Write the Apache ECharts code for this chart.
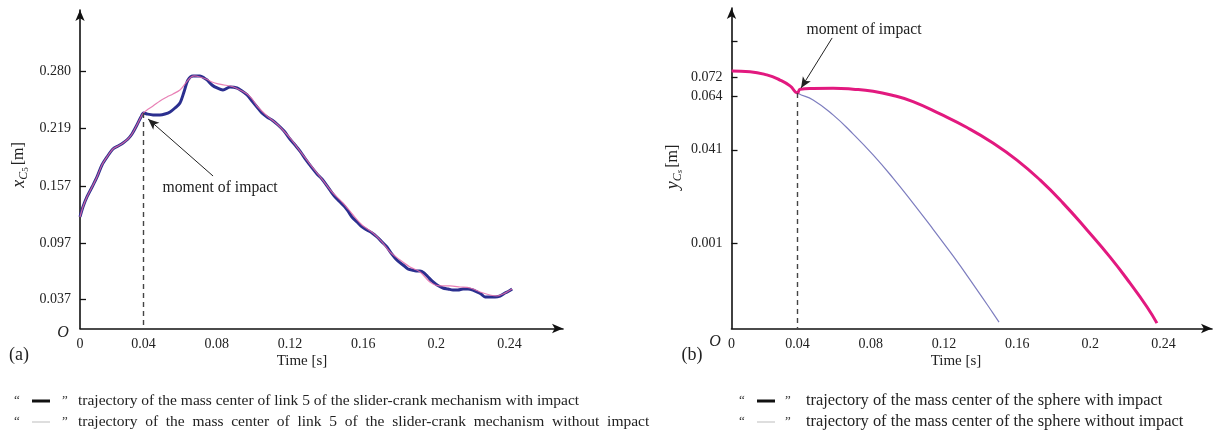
<!DOCTYPE html>
<html>
<head>
<meta charset="utf-8">
<title>trajectory of mass centers</title>
<script src="https://cdn.jsdelivr.net/npm/echarts@6/dist/echarts.min.js"></script>
<style>
	html,body{margin:0;padding:0;background:#fff;}
	#main{width:1217px;height:436px;}
</style>
</head>
<body>
<div id="main"></div>
<script type="text/javascript">
	// (a) link 5 of the slider-crank mechanism, x of the mass center [m]
	// shared part before the impact (t <= 0.04)
	var tBeforeA = [0.0053,0.0069,0.0091,0.0119,0.0146,0.0173,0.0201,0.0233,0.0261,0.0288,0.0315,0.0337,0.0364,0.0386,0.04];
	var xBeforeA = [0.1246,0.1352,0.1459,0.1565,0.1672,0.1799,0.1885,0.1970,0.2002,0.2034,0.2076,0.2129,0.2225,0.2310,0.2353];
	// with impact
	var tWithA = [0.0419,0.0452,0.0490,0.0517,0.0545,0.0572,0.0599,0.0621,0.0643,0.0670,0.0709,0.0731,0.0747,0.0774,0.0802,0.0834,0.0873,0.0911,0.0938,0.0966,0.0993,0.1020,0.1047,0.1075,0.1102,0.1135,0.1168,0.1200,0.1228,0.1255,0.1288,0.1321,0.1348,0.1375,0.1403,0.1430,0.1452,0.1474,0.1496,0.1517,0.1539,0.1567,0.1594,0.1621,0.1649,0.1676,0.1703,0.1730,0.1752,0.1774,0.1796,0.1818,0.1845,0.1867,0.1889,0.1911,0.1933,0.1955,0.1976,0.2004,0.2036,0.2064,0.2091,0.2118,0.2146,0.2173,0.2200,0.2222,0.2244,0.2266,0.2293,0.2321,0.2348,0.2375,0.2397,0.2414];
	var xWithA = [0.2342,0.2332,0.2332,0.2342,0.2364,0.2406,0.2459,0.2576,0.2704,0.2747,0.2747,0.2725,0.2704,0.2651,0.2619,0.2598,0.2630,0.2619,0.2587,0.2545,0.2481,0.2417,0.2353,0.2310,0.2278,0.2225,0.2161,0.2076,0.2012,0.1948,0.1853,0.1768,0.1704,0.1650,0.1576,0.1501,0.1448,0.1406,0.1363,0.1310,0.1246,0.1193,0.1140,0.1108,0.1076,0.1033,0.0980,0.0927,0.0863,0.0810,0.0767,0.0735,0.0692,0.0682,0.0671,0.0671,0.0650,0.0607,0.0565,0.0522,0.0490,0.0480,0.0469,0.0469,0.0480,0.0480,0.0469,0.0448,0.0426,0.0394,0.0394,0.0394,0.0405,0.0437,0.0458,0.0480];
	// without impact
	var tWithoutA = [0.0419,0.0452,0.0490,0.0528,0.0561,0.0599,0.0627,0.0654,0.0676,0.0709,0.0742,0.0774,0.0807,0.0840,0.0873,0.0905,0.0938,0.0966,0.0993,0.1020,0.1075,0.1135,0.1200,0.1255,0.1321,0.1375,0.1430,0.1490,0.1545,0.1594,0.1654,0.1703,0.1747,0.1802,0.1856,0.1911,0.1965,0.2020,0.2075,0.2129,0.2184,0.2239,0.2293,0.2332,0.2364,0.2386,0.2414];
	var xWithoutA = [0.2385,0.2427,0.2481,0.2523,0.2555,0.2598,0.2662,0.2725,0.2747,0.2736,0.2715,0.2683,0.2662,0.2651,0.2640,0.2619,0.2587,0.2555,0.2502,0.2427,0.2321,0.2225,0.2087,0.1948,0.1778,0.1650,0.1512,0.1395,0.1267,0.1161,0.1076,0.0980,0.0873,0.0788,0.0714,0.0661,0.0554,0.0512,0.0512,0.0501,0.0490,0.0448,0.0416,0.0405,0.0426,0.0448,0.0480];

	// (b) the sphere, y of the mass center [m]
	var tBeforeB = [0.0040,0.0140,0.0232,0.0304,0.0359,0.04];
	var yBeforeB = [0.0747,0.0744,0.0730,0.0708,0.0683,0.0653];
	var tWithB = [0.0414,0.0485,0.0594,0.0703,0.0813,0.0922,0.1031,0.1179,0.1326,0.1468,0.1599,0.1725,0.1851,0.1982,0.2108,0.2217,0.2310,0.2364];
	var yWithB = [0.0669,0.0672,0.0673,0.0669,0.0660,0.0642,0.0616,0.0563,0.0505,0.0439,0.0366,0.0281,0.0182,0.0067,-0.0049,-0.0160,-0.0262,-0.0331];
	var tWithoutB = [0.0485,0.0594,0.0703,0.0813,0.0922,0.1031,0.1140,0.1250,0.1359,0.1468,0.1501];
	var yWithoutB = [0.0623,0.0559,0.0478,0.0388,0.0289,0.0182,0.0071,-0.0044,-0.0164,-0.0288,-0.0327];

	// tick labels
	var timeTicks = [0.04,0.08,0.12,0.16,0.2,0.24];
	var yTicksA = [0.037,0.097,0.157,0.219,0.280];
	var yTicksB = [0.001,0.041,0.064,0.072];
	var yExtraTickB = [0.0872];

	var impactT = 0.04;
	var serif = "'Liberation Serif','DejaVu Serif',serif";

	// axis ranges
	var rangeA = {xMin:0.0053, xMax:0.2692, yMin:0.0059, yMax:0.3449};
	var rangeB = {xMin:0.0039, xMax:0.2665, yMin:-0.0354, yMax:0.1016};

	function zip(t, v){
		var out = [];
		for(var i=0;i<t.length;i++){
			out.push([t[i], v[i]]);
		}
		return out;
	}

	function timeAxis(idx, r){
		return {
			type:'value', gridIndex:idx, min:r.xMin, max:r.xMax,
			axisLine:{show:true, onZero:false, symbol:['none','arrow'], symbolSize:[7,11], lineStyle:{color:'#111', width:1.6}},
			axisTick:{show:false},
			splitLine:{show:false},
			axisLabel:{
				customValues:[r.xMin].concat(timeTicks),
				showMinLabel:true,
				margin:9,
				color:'#222', fontFamily:serif, fontSize:14,
				formatter:function(v){ return v < 0.01 ? '0' : String(parseFloat(v.toFixed(2))); }
			}
		};
	}

	function valueAxis(idx, r, labels, ticks){
		return {
			type:'value', gridIndex:idx, min:r.yMin, max:r.yMax,
			axisLine:{show:true, onZero:false, symbol:['none','arrow'], symbolSize:[7,11], lineStyle:{color:'#111', width:1.6}},
			axisTick:{show:true, inside:true, length:6, customValues:ticks, lineStyle:{color:'#111', width:1.3}},
			splitLine:{show:false},
			axisLabel:{
				customValues:labels,
				margin:9,
				color:'#222', fontFamily:serif, fontSize:14,
				formatter:function(v){ return v.toFixed(3); }
			}
		};
	}

	var chart = echarts.init(document.getElementById('main'));

	var option = {
		animation:false,
		backgroundColor:'#fff',
		grid:[
			{left:80, right:654, top:10, bottom:107.5},
			{left:731.5, right:5, top:8, bottom:107.5}
		],
		xAxis:[timeAxis(0, rangeA), timeAxis(1, rangeB)],
		yAxis:[
			valueAxis(0, rangeA, yTicksA, yTicksA),
			valueAxis(1, rangeB, yTicksB, yTicksB.concat(yExtraTickB))
		],
		series:[
			{
				name:'with impact (a)', type:'line', xAxisIndex:0, yAxisIndex:0,
				data:zip(tBeforeA.concat(tWithA), xBeforeA.concat(xWithA)),
				showSymbol:false, smooth:0.3, z:3,
				lineStyle:{color:'#2b2f8f', width:3},
				markLine:{
					silent:true, symbol:['none','none'], label:{show:false},
					data:[
						[{coord:[impactT, xBeforeA[xBeforeA.length-1]], lineStyle:{color:'#444', width:1.4, type:[5,4]}},
						 {coord:[impactT, rangeA.yMin]}],
						[{coord:[0.0780, 0.1682], symbol:'none', lineStyle:{color:'#222', width:1, type:'solid'}},
						 {coord:[0.0425, 0.2289], symbol:'arrow', symbolSize:[7,11]}]
					]
				}
			},
			{
				name:'without impact (a)', type:'line', xAxisIndex:0, yAxisIndex:0,
				data:zip(tBeforeA.concat(tWithoutA), xBeforeA.concat(xWithoutA)),
				showSymbol:false, smooth:0.3, z:4,
				lineStyle:{color:'#e46aa8', width:1.2, opacity:0.85}
			},
			{
				name:'without impact (b)', type:'line', xAxisIndex:1, yAxisIndex:1,
				data:zip(tBeforeB.concat(tWithoutB), yBeforeB.concat(yWithoutB)),
				showSymbol:false, smooth:true, z:3,
				lineStyle:{color:'#7d7dbf', width:1.2}
			},
			{
				name:'with impact (b)', type:'line', xAxisIndex:1, yAxisIndex:1,
				data:zip(tBeforeB.concat(tWithB), yBeforeB.concat(yWithB)),
				showSymbol:false, smooth:true, z:4,
				lineStyle:{color:'#e2197f', width:3},
				markLine:{
					silent:true, symbol:['none','none'], label:{show:false},
					data:[
						[{coord:[impactT, yBeforeB[yBeforeB.length-1]], lineStyle:{color:'#444', width:1.4, type:[5,4]}},
						 {coord:[impactT, rangeB.yMin]}],
						[{coord:[0.0589, 0.0888], symbol:'none', lineStyle:{color:'#222', width:1, type:'solid'}},
						 {coord:[0.0419, 0.0674], symbol:'arrow', symbolSize:[7,11]}]
					]
				}
			}
		],
		graphic:[
			// origin marks
			{type:'text', x:63, y:333, style:{text:'O', font:'italic 16px '+serif, fill:'#222', align:'center', verticalAlign:'middle'}},
			{type:'text', x:715, y:342, style:{text:'O', font:'italic 16px '+serif, fill:'#222', align:'center', verticalAlign:'middle'}},
			// panel tags
			{type:'text', x:19, y:355, style:{text:'(a)', font:'18px '+serif, fill:'#222', align:'center', verticalAlign:'middle'}},
			{type:'text', x:692, y:355, style:{text:'(b)', font:'18px '+serif, fill:'#222', align:'center', verticalAlign:'middle'}},
			// axis names
			{type:'text', x:302, y:361, style:{text:'Time [s]', font:'15px '+serif, fill:'#222', align:'center', verticalAlign:'middle'}},
			{type:'text', x:956, y:361, style:{text:'Time [s]', font:'15px '+serif, fill:'#222', align:'center', verticalAlign:'middle'}},
			{type:'text', x:19, y:165, rotation:Math.PI/2, style:{
				text:'{v|x}{s|C}{ss|5}{n|[m]}', fill:'#222', align:'center', verticalAlign:'middle',
				rich:{
					v:{font:'italic 18px '+serif, lineHeight:22, verticalAlign:'middle'},
					s:{font:'italic 12px '+serif, lineHeight:13, verticalAlign:'bottom'},
					ss:{font:'9px '+serif, lineHeight:9, verticalAlign:'bottom'},
					n:{font:'16px '+serif, lineHeight:22, verticalAlign:'middle', padding:[0,0,0,2]}
				}
			}},
			{type:'text', x:673, y:167, rotation:Math.PI/2, style:{
				text:'{v|y}{s|C}{ss|s}{n|[m]}', fill:'#222', align:'center', verticalAlign:'middle',
				rich:{
					v:{font:'italic 18px '+serif, lineHeight:22, verticalAlign:'middle'},
					s:{font:'italic 12px '+serif, lineHeight:13, verticalAlign:'bottom'},
					ss:{font:'italic 9px '+serif, lineHeight:9, verticalAlign:'bottom'},
					n:{font:'16px '+serif, lineHeight:22, verticalAlign:'middle', padding:[0,0,0,2]}
				}
			}},
			// annotations
			{type:'text', x:220, y:188, style:{text:'moment of impact', font:'15.7px '+serif, fill:'#222', align:'center', verticalAlign:'middle'}},
			{type:'text', x:864, y:30, style:{text:'moment of impact', font:'15.7px '+serif, fill:'#222', align:'center', verticalAlign:'middle'}},
			// legend (a)
			{type:'text', x:14, y:401, style:{text:'\u201c', font:'13px '+serif, fill:'#333', verticalAlign:'middle'}},
			{type:'line', shape:{x1:32, y1:401, x2:50, y2:401}, style:{stroke:'#111', lineWidth:3}},
			{type:'text', x:62, y:401, style:{text:'\u201d', font:'13px '+serif, fill:'#333', verticalAlign:'middle'}},
			{type:'text', x:78, y:401, style:{text:'trajectory of the mass center of link 5 of the slider-crank mechanism with impact', font:'15.5px '+serif, fill:'#222', verticalAlign:'middle'}},
			{type:'text', x:14, y:422, style:{text:'\u201c', font:'13px '+serif, fill:'#333', verticalAlign:'middle'}},
			{type:'line', shape:{x1:32, y1:422, x2:50, y2:422}, style:{stroke:'#c8c8c8', lineWidth:1.2}},
			{type:'text', x:62, y:422, style:{text:'\u201d', font:'13px '+serif, fill:'#333', verticalAlign:'middle'}},
			{type:'text', x:78, y:422, style:{text:'trajectory  of  the  mass  center  of  link  5  of  the  slider-crank  mechanism  without  impact', font:'15.5px '+serif, fill:'#222', verticalAlign:'middle'}},
			// legend (b)
			{type:'text', x:739, y:401, style:{text:'\u201c', font:'13px '+serif, fill:'#333', verticalAlign:'middle'}},
			{type:'line', shape:{x1:757, y1:401, x2:775, y2:401}, style:{stroke:'#111', lineWidth:3}},
			{type:'text', x:785, y:401, style:{text:'\u201d', font:'13px '+serif, fill:'#333', verticalAlign:'middle'}},
			{type:'text', x:806, y:401, style:{text:'trajectory of the mass center of the sphere with impact', font:'16.4px '+serif, fill:'#222', verticalAlign:'middle'}},
			{type:'text', x:739, y:422, style:{text:'\u201c', font:'13px '+serif, fill:'#333', verticalAlign:'middle'}},
			{type:'line', shape:{x1:757, y1:422, x2:775, y2:422}, style:{stroke:'#c8c8c8', lineWidth:1.2}},
			{type:'text', x:785, y:422, style:{text:'\u201d', font:'13px '+serif, fill:'#333', verticalAlign:'middle'}},
			{type:'text', x:806, y:422, style:{text:'trajectory of the mass center of the sphere without impact', font:'16.4px '+serif, fill:'#222', verticalAlign:'middle'}}
		]
	};

	chart.setOption(option);
</script>
</body>
</html>
